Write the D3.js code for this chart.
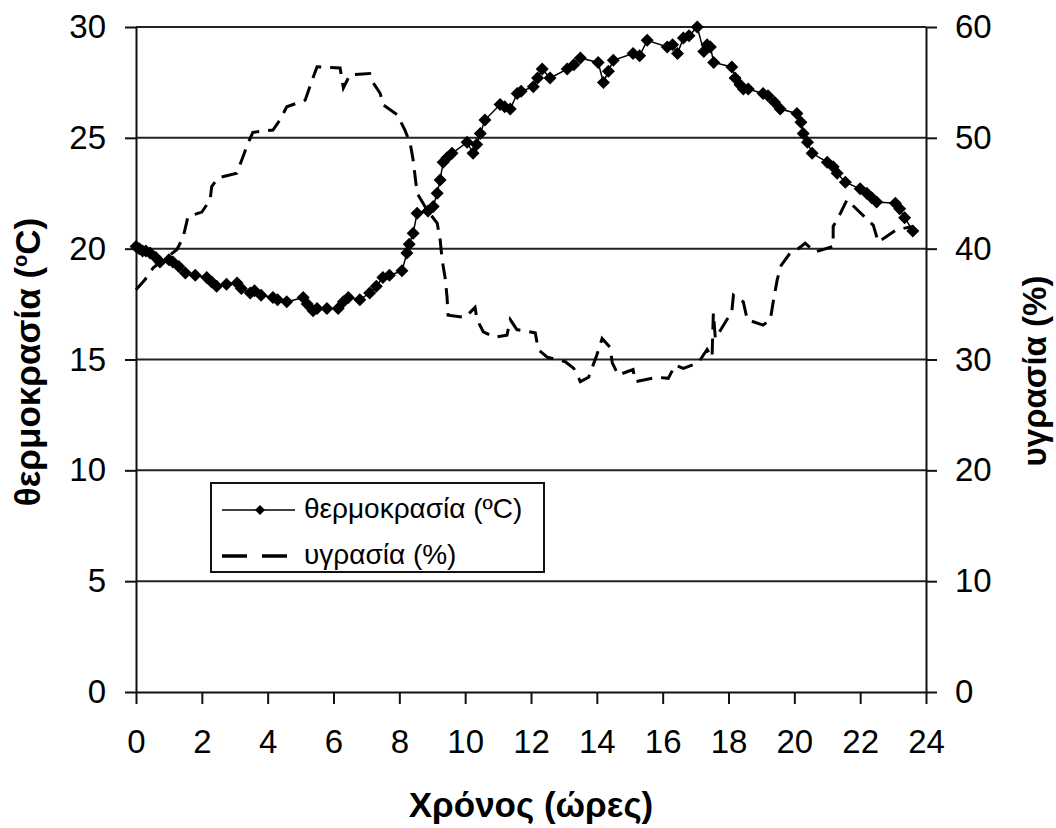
<!DOCTYPE html>
<html>
<head>
<meta charset="utf-8">
<script src="https://cdn.jsdelivr.net/npm/d3@7"></script>
<style>
  body { margin: 0; background: #fff; }
  text { font-family: "Liberation Sans", Arial, sans-serif; fill: #000; }
</style>
</head>
<body>
<script>
// temperature (hours, °C)
const tempHours = [0, 0.1, 0.2, 0.3, 0.43, 0.6, 0.73, 1.0, 1.12, 1.3, 1.5, 1.8, 2.15, 2.3, 2.45, 2.75, 3.07, 3.2, 3.47, 3.6, 3.8, 4.16, 4.3, 4.58, 5.08, 5.2, 5.38, 5.5, 5.8, 6.14, 6.3, 6.45, 6.8, 7.1, 7.3, 7.5, 7.7, 8.08, 8.23, 8.3, 8.42, 8.54, 8.87, 9.03, 9.15, 9.24, 9.33, 9.45, 9.6, 10.06, 10.24, 10.35, 10.46, 10.6, 11.06, 11.2, 11.37, 11.58, 11.7, 12.07, 12.2, 12.34, 12.58, 13.1, 13.3, 13.5, 14.04, 14.2, 14.35, 14.5, 15.1, 15.3, 15.53, 16.14, 16.3, 16.45, 16.63, 16.8, 17.05, 17.25, 17.35, 17.45, 17.55, 18.1, 18.2, 18.35, 18.45, 18.6, 19.05, 19.2, 19.4, 19.57, 20.08, 20.2, 20.27, 20.4, 20.54, 21.0, 21.18, 21.3, 21.55, 22.0, 22.2, 22.35, 22.5, 23.07, 23.2, 23.35, 23.6];
const tempValues = [20.1, 20.0, 19.9, 19.9, 19.8, 19.6, 19.4, 19.5, 19.4, 19.2, 18.9, 18.8, 18.7, 18.5, 18.3, 18.4, 18.45, 18.2, 18.0, 18.1, 17.9, 17.8, 17.7, 17.6, 17.8, 17.5, 17.2, 17.3, 17.3, 17.3, 17.6, 17.8, 17.7, 18.0, 18.3, 18.7, 18.8, 19.0, 19.8, 20.2, 20.7, 21.6, 21.7, 21.9, 22.5, 23.1, 23.9, 24.1, 24.3, 24.8, 24.3, 24.7, 25.2, 25.8, 26.5, 26.4, 26.3, 27.0, 27.1, 27.3, 27.7, 28.1, 27.7, 28.1, 28.3, 28.6, 28.4, 27.5, 28.0, 28.5, 28.8, 28.7, 29.4, 29.1, 29.2, 28.8, 29.5, 29.6, 30.0, 28.9, 29.2, 29.1, 28.4, 28.2, 27.7, 27.4, 27.2, 27.2, 27.0, 26.9, 26.6, 26.3, 26.1, 25.7, 25.2, 24.8, 24.3, 23.9, 23.7, 23.4, 23.0, 22.7, 22.5, 22.3, 22.1, 22.05, 21.8, 21.4, 20.8];

// humidity (hours, %)
const humHours = [0, 0.27, 0.53, 1.24, 1.43, 1.58, 2.0, 2.25, 2.3, 2.5, 3.06, 3.25, 3.4, 3.55, 4.16, 4.37, 4.58, 5.14, 5.35, 5.5, 6.2, 6.3, 6.5, 7.1, 7.2, 7.42, 7.5, 7.93, 8.17, 8.33, 8.42, 8.54, 8.84, 9.15, 9.24, 9.3, 9.39, 9.45, 9.48, 10.0, 10.3, 10.36, 10.55, 10.9, 11.27, 11.37, 11.57, 12.13, 12.22, 12.5, 13.04, 13.3, 13.5, 13.75, 14.0, 14.16, 14.4, 14.47, 14.65, 15.1, 15.17, 15.83, 16.17, 16.38, 16.63, 17.08, 17.35, 17.5, 17.54, 17.6, 18.1, 18.15, 18.45, 18.57, 19.05, 19.27, 19.37, 19.48, 19.6, 19.87, 20.08, 20.33, 20.63, 21.18, 21.18, 21.4, 21.6, 22.4, 22.55, 23.1, 23.6];
const humValues = [36.3, 37.2, 38.3, 39.9, 41.0, 42.9, 43.3, 44.4, 45.6, 46.4, 46.8, 48.3, 49.5, 50.5, 50.7, 51.6, 52.8, 53.4, 55.2, 56.4, 56.3, 54.5, 55.7, 55.8, 55.0, 54.0, 53.0, 52.1, 50.7, 49.5, 48.0, 45.0, 43.5, 42.3, 40.8, 39.0, 37.4, 35.6, 34.0, 33.8, 34.7, 33.6, 32.5, 32.0, 32.2, 33.6, 32.7, 32.4, 30.9, 30.2, 29.8, 29.2, 28.0, 28.4, 30.4, 31.9, 31.1, 29.7, 28.6, 29.1, 28.0, 28.4, 28.3, 29.5, 29.2, 29.7, 30.9, 30.2, 34.2, 31.9, 34.3, 35.8, 35.2, 33.6, 33.1, 33.6, 35.4, 37.2, 38.5, 39.6, 39.9, 40.5, 39.7, 40.2, 42.0, 43.2, 44.4, 42.1, 40.6, 41.7, 42.0];

const xTicks = d3.range(0, 25, 2);
const leftTicks = [0, 5, 10, 15, 20, 25, 30];
const rightTicks = [0, 10, 20, 30, 40, 50, 60];
const seriesNames = ["θερμοκρασία (ºC)", "υγρασία (%)"];

const width = 1056, height = 828;
const mLeft = 136, mRight = 926, mTop = 27, mBottom = 692;

const x = d3.scaleLinear().domain([0, 24]).range([mLeft, mRight]);
const yL = d3.scaleLinear().domain([0, 30]).range([mBottom, mTop]);
const yR = d3.scaleLinear().domain([0, 60]).range([mBottom, mTop]);

const svg = d3.select("body").append("svg")
  .attr("width", width)
  .attr("height", height);

// gridlines
svg.append("g")
  .selectAll("line")
  .data(leftTicks.filter(d => d > 0))
  .enter().append("line")
  .attr("x1", mLeft).attr("x2", mRight)
  .attr("y1", d => yL(d)).attr("y2", d => yL(d))
  .attr("stroke", "#222").attr("stroke-width", 2);

// axes
let xAxis = svg.append("g")
  .attr("transform", `translate(0,${mBottom})`)
  .call(d3.axisBottom(x).tickValues(xTicks).tickSize(12).tickPadding(26).tickFormat(d3.format("d")));

let leftAxis = svg.append("g")
  .attr("transform", `translate(${mLeft},0)`)
  .call(d3.axisLeft(yL).tickValues(leftTicks).tickSize(11).tickPadding(19));

let rightAxis = svg.append("g")
  .attr("transform", `translate(${mRight},0)`)
  .call(d3.axisRight(yR).tickValues(rightTicks).tickSize(11).tickPadding(18));

[xAxis, leftAxis, rightAxis].forEach(a => {
  a.select(".domain").attr("stroke", "#111").attr("stroke-width", 2);
  a.selectAll(".tick line").attr("stroke", "#111").attr("stroke-width", 2);
  a.selectAll("text")
    .attr("font-family", "Liberation Sans, Arial, sans-serif")
    .attr("font-size", 33)
    .attr("fill", "#000");
});
xAxis.select(".domain").attr("d", `M${mLeft},0.5H${mRight}`);
leftAxis.select(".domain").attr("d", `M0.5,${mTop}V${mBottom}`);
rightAxis.select(".domain").attr("d", `M0.5,${mTop}V${mBottom}`);

// humidity dashed line
let humLine = d3.line()
  .x((d, i) => x(humHours[i]))
  .y(d => yR(d));

svg.append("path")
  .datum(humValues)
  .attr("d", humLine)
  .attr("fill", "none")
  .attr("stroke", "#000")
  .attr("stroke-width", 3)
  .attr("stroke-dasharray", "16,9");

// temperature line + diamonds
let tempLine = d3.line()
  .x((d, i) => x(tempHours[i]))
  .y(d => yL(d));

svg.append("path")
  .datum(tempValues)
  .attr("d", tempLine)
  .attr("fill", "none")
  .attr("stroke", "#000")
  .attr("stroke-width", 1.5);

let diamond = "M0,-6.5L6.5,0L0,6.5L-6.5,0Z";

svg.append("g")
  .selectAll("path")
  .data(tempValues)
  .enter().append("path")
  .attr("d", diamond)
  .attr("transform", (d, i) => `translate(${x(tempHours[i])},${yL(d)})`)
  .attr("fill", "#000");

// axis titles
svg.append("text")
  .attr("x", 531)
  .attr("y", 817)
  .attr("text-anchor", "middle")
  .attr("font-size", 35)
  .attr("font-weight", "bold")
  .text("Χρόνος (ώρες)");

let lt = svg.append("text")
  .attr("transform", "translate(40,362) rotate(-90)")
  .attr("text-anchor", "middle")
  .attr("font-size", 35)
  .attr("font-weight", "bold");
lt.append("tspan").text("θερμοκρασία (");
lt.append("tspan").attr("font-size", 20).attr("dy", -13).text("o");
lt.append("tspan").attr("dy", 13).text("C)");

svg.append("text")
  .attr("transform", "translate(1046,371) rotate(-90)")
  .attr("text-anchor", "middle")
  .attr("font-size", 33)
  .attr("font-weight", "bold")
  .text("υγρασία (%)");

// legend
let lg = svg.append("g").attr("transform", "translate(211,483)");
lg.append("rect")
  .attr("width", 333).attr("height", 89)
  .attr("fill", "#fff").attr("stroke", "#111").attr("stroke-width", 2);

lg.append("line")
  .attr("x1", 11).attr("x2", 84).attr("y1", 27).attr("y2", 27)
  .attr("stroke", "#000").attr("stroke-width", 1.5);
lg.append("path")
  .attr("d", "M0,-5L5,0L0,5L-5,0Z")
  .attr("transform", "translate(49,27)")
  .attr("fill", "#000");
lg.append("line")
  .attr("x1", 11).attr("x2", 84).attr("y1", 73).attr("y2", 73)
  .attr("stroke", "#000").attr("stroke-width", 3.5)
  .attr("stroke-dasharray", "25,15");

lg.selectAll("text.lbl")
  .data(seriesNames)
  .enter().append("text")
  .attr("class", "lbl")
  .attr("x", 93)
  .attr("y", (d, i) => 25 + i * 46)
  .attr("dy", "0.35em")
  .attr("font-size", 28)
  .text(d => d);
</script>
</body>
</html>
